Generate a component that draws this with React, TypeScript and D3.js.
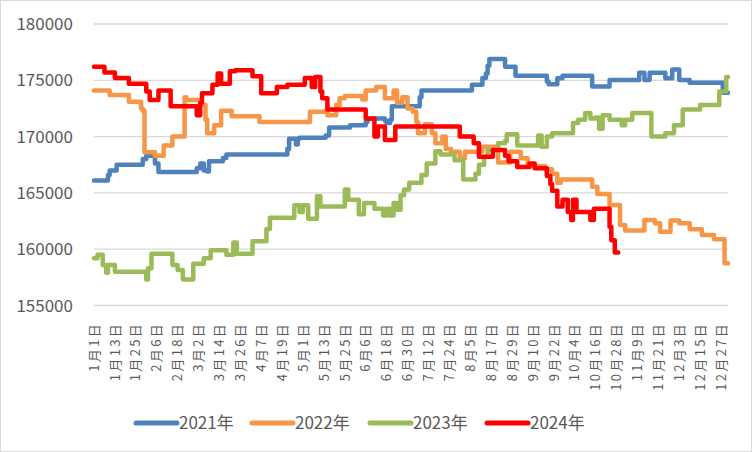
import React from "react";
import * as d3 from "d3";

const W = 752;
const H = 452;

// Category axis: every day of the year, labelled every 12 days
const tickLabels = [
  "1月1日", "1月13日", "1月25日", "2月6日", "2月18日", "3月2日", "3月14日", "3月26日",
  "4月7日", "4月19日", "5月1日", "5月13日", "5月25日", "6月6日", "6月18日", "6月30日",
  "7月12日", "7月24日", "8月5日", "8月17日", "8月29日", "9月10日", "9月22日", "10月4日",
  "10月16日", "10月28日", "11月9日", "11月21日", "12月3日", "12月15日", "12月27日",
];
const dayCount = 365;
const tickStep = 12;
const yTicks = [155000, 160000, 165000, 170000, 175000, 180000];

// Series as change points: day-of-year index and price from that day on
const days2021 = [0, 8, 9, 13, 28, 30, 35, 37, 59, 61, 63, 65, 66, 74, 76, 111, 112, 116, 117, 118, 133, 135, 147, 156, 157, 167, 168, 170, 171, 187, 188, 217, 223, 225, 226, 227, 236, 242, 260, 261, 266, 269, 286, 296, 313, 316, 319, 328, 332, 336, 342, 361, 364];
const vals2021 = [166100, 166600, 167000, 167500, 168000, 168300, 167600, 166850, 167200, 167600, 167000, 166900, 167800, 168100, 168400, 168900, 169800, 169300, 169800, 169900, 170100, 170800, 171000, 171300, 171600, 171400, 171200, 171500, 172700, 173500, 174100, 174600, 175200, 175600, 176300, 176900, 176200, 175400, 174900, 174650, 175180, 175400, 174440, 175030, 175680, 175030, 175680, 175180, 175970, 175030, 174790, 173900, 173900];

const days2022 = [0, 9, 20, 27, 28, 29, 35, 40, 45, 52, 53, 61, 64, 65, 69, 73, 79, 95, 124, 134, 139, 141, 144, 154, 156, 162, 167, 172, 174, 177, 180, 183, 185, 186, 190, 194, 196, 200, 202, 205, 210, 213, 223, 232, 239, 245, 249, 259, 263, 266, 268, 286, 289, 296, 302, 305, 316, 322, 325, 331, 336, 342, 349, 356, 362, 364];
const vals2022 = [174100, 173700, 173100, 172500, 172300, 168600, 168300, 169200, 170000, 173500, 173250, 172800, 171500, 170300, 171000, 172300, 171800, 171300, 172200, 171900, 172800, 173400, 173600, 173300, 174100, 174400, 173400, 174100, 173000, 173500, 172500, 172200, 171300, 170300, 171100, 170300, 169400, 170000, 168900, 168660, 168100, 168660, 169100, 167700, 168660, 168070, 167400, 167100, 166700, 165900, 166200, 165550, 164900, 163930, 162150, 161650, 162600, 162300, 161560, 162540, 162300, 161770, 161260, 160880, 158750, 158750];

const days2023 = [0, 2, 5, 7, 8, 12, 30, 31, 33, 45, 48, 51, 57, 63, 67, 76, 80, 82, 91, 99, 101, 115, 118, 120, 123, 128, 130, 144, 146, 152, 155, 161, 166, 168, 170, 172, 174, 176, 178, 181, 188, 191, 196, 199, 207, 212, 219, 221, 224, 226, 232, 236, 237, 243, 255, 257, 260, 263, 275, 278, 282, 285, 288, 290, 292, 296, 303, 305, 309, 320, 328, 333, 338, 348, 359, 363, 364];
const vals2023 = [159200, 159500, 158600, 157900, 158600, 158000, 157300, 158300, 159600, 158600, 158150, 157300, 158700, 159200, 159900, 159500, 160600, 159600, 160700, 161800, 162800, 163900, 163300, 163900, 162700, 164700, 163800, 165300, 164400, 163100, 164100, 163600, 163000, 163600, 163000, 164100, 163500, 164800, 165300, 165900, 166600, 167600, 168700, 168400, 167900, 166200, 166700, 167500, 168200, 168800, 169400, 169600, 170200, 169200, 170100, 169100, 170000, 170300, 171200, 171500, 172100, 171600, 171700, 170700, 171900, 171500, 171000, 171500, 172100, 170000, 170300, 171000, 172400, 172800, 174000, 175300, 175300];

const days2024 = [0, 6, 12, 20, 30, 32, 37, 44, 59, 61, 62, 68, 71, 73, 78, 81, 91, 96, 105, 111, 121, 125, 127, 130, 131, 134, 156, 161, 163, 167, 173, 210, 218, 221, 229, 236, 238, 243, 250, 253, 260, 262, 263, 266, 269, 272, 274, 275, 277, 285, 287, 296, 297, 299, 301];
const vals2024 = [176200, 175700, 175200, 174700, 174000, 173250, 174100, 172700, 171900, 173000, 173850, 174600, 175600, 174700, 175800, 175900, 175350, 173850, 174400, 174600, 175200, 174400, 175300, 174000, 173400, 172400, 171600, 170000, 170900, 169700, 170900, 170000, 169400, 168200, 168800, 168300, 167800, 167300, 167600, 167200, 166500, 165800, 165200, 163800, 164400, 163300, 162600, 164400, 163300, 162600, 163600, 162000, 160800, 159700, 159700];

const seriesNames = ["2021年", "2022年", "2023年", "2024年"];
const seriesColors = ["#4F81BD", "#F79646", "#9BBB59", "#FF0000"];
const seriesDays = [days2021, days2022, days2023, days2024];
const seriesVals = [vals2021, vals2022, vals2023, vals2024];

const FONT = "'Noto Sans CJK SC', 'Noto Sans', sans-serif";
const TEXT = "#595959";

export default function App() {
  const left = 94;
  const right = 728;
  const top = 24;
  const bottom = 305.5;

  const x = d3.scaleLinear().domain([0, dayCount - 1]).range([left, right]);
  const y = d3.scaleLinear().domain([155000, 180000]).range([bottom, top]);

  const line = d3
    .line<[number, number]>()
    .x((d) => x(d[0]))
    .y((d) => y(d[1]))
    .curve(d3.curveStepAfter);

  const legendX = [136, 252, 370, 487];

  return (
    <svg width={W} height={H} style={{ display: "block", position: "absolute", left: 0, top: 0 }}>
      <rect x={0.5} y={0.5} width={W - 1} height={H - 1} fill="#fff" stroke="#D9D9D9" />
      {yTicks.map((t) => (
        <g key={t}>
          <line x1={left} x2={right} y1={y(t)} y2={y(t)} stroke="#D9D9D9" strokeWidth={1.3} />
          <text
            x={73}
            y={y(t)}
            dy="0.36em"
            textAnchor="end"
            fontFamily={FONT}
            fontSize={17}
            fill={TEXT}
          >
            {t}
          </text>
        </g>
      ))}
      {tickLabels.map((lab, i) => (
        <text
          key={lab}
          transform={`translate(${x(i * tickStep)},322) rotate(-90)`}
          dy="0.36em"
          textAnchor="end"
          fontFamily={FONT}
          fontSize={13}
          letterSpacing={2.3}
          fill={TEXT}
        >
          {lab}
        </text>
      ))}
      {seriesNames.map((name, s) => {
        const pts = seriesDays[s].map((d, k) => [d, seriesVals[s][k]] as [number, number]);
        return (
          <path
            key={name}
            d={line(pts) || ""}
            fill="none"
            stroke={seriesColors[s]}
            strokeWidth={4.5}
            strokeLinejoin="round"
            strokeLinecap="round"
          />
        );
      })}
      {seriesNames.map((name, s) => (
        <g key={name}>
          <line
            x1={legendX[s]}
            x2={legendX[s] + 41}
            y1={423}
            y2={423}
            stroke={seriesColors[s]}
            strokeWidth={5}
            strokeLinecap="round"
          />
          <text
            x={legendX[s] + 43}
            y={423}
            dy="0.36em"
            fontFamily={FONT}
            fontSize={17}
            fill={TEXT}
          >
            {name}
          </text>
        </g>
      ))}
    </svg>
  );
}
